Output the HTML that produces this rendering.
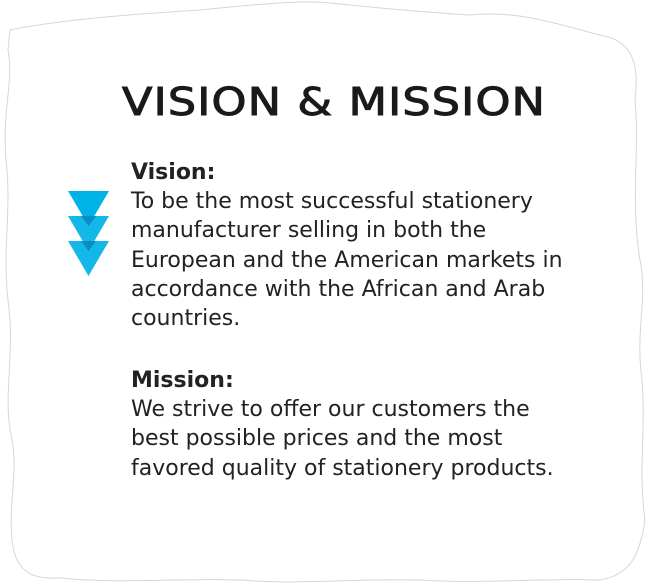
<!DOCTYPE html>
<html><head><meta charset="utf-8"><style>
html,body{margin:0;padding:0;background:#fff;width:651px;height:587px;overflow:hidden;position:relative}
.t{position:absolute;font-family:"DejaVu Sans","Liberation Sans",sans-serif;font-size:22px;color:#222;white-space:nowrap;line-height:29.2px;left:131px;letter-spacing:0px}
b{font-weight:bold}
</style></head><body>
<svg width="651" height="587" style="position:absolute;left:0;top:0">
<path d="M10,30 C60,20 120,15 200,10 C260,4 300,0 330,3 C380,8 420,12 470,15 C520,10 560,25 600,35 C630,40 640,60 635,100 C640,150 630,200 640,260 C648,300 635,330 642,380 C646,430 638,470 645,520 C640,555 630,575 600,580 C540,578 480,584 420,580 C360,578 300,585 240,580 C180,578 120,584 60,578 C30,580 15,570 12,540 C8,500 20,470 10,430 C4,390 15,350 8,300 C2,250 12,210 6,160 C2,110 14,80 8,50 Z" fill="#fff" stroke="#d6d6d6" stroke-width="1"/>
</svg>
<div style="position:absolute;left:122px;top:80px;font-family:'DejaVu Sans','Liberation Sans',sans-serif;font-size:38px;letter-spacing:1px;color:#1a1a1a;white-space:nowrap;transform-origin:0 0;transform:scaleX(1.17);-webkit-text-stroke:1px #1a1a1a">VISION &amp; MISSION</div>
<svg width="45" height="90" style="position:absolute;left:67px;top:190px">
<polygon points="1,1 42,1 21.5,36" fill="#00b2e6"/>
<polygon points="1,26 42,26 21.5,61" fill="#00b2e6" opacity="0.92"/>
<polygon points="1,51 42,51 21.5,86" fill="#00b2e6" opacity="0.92"/>
<polygon points="14,26 29,26 21.5,36" fill="#0a8cc6"/>
<polygon points="14,51 29,51 21.5,61" fill="#0a8cc6"/>
</svg>
<div class="t" style="top:158px"><b>Vision:</b><br>To be the most successful stationery<br>manufacturer selling in both the<br>European and the American markets in<br>accordance with the African and Arab<br>countries.</div>
<div class="t" style="top:366px"><b>Mission:</b><br>We strive to offer our customers the<br>best possible prices and the most<br>favored quality of stationery products.</div>
</body></html>
